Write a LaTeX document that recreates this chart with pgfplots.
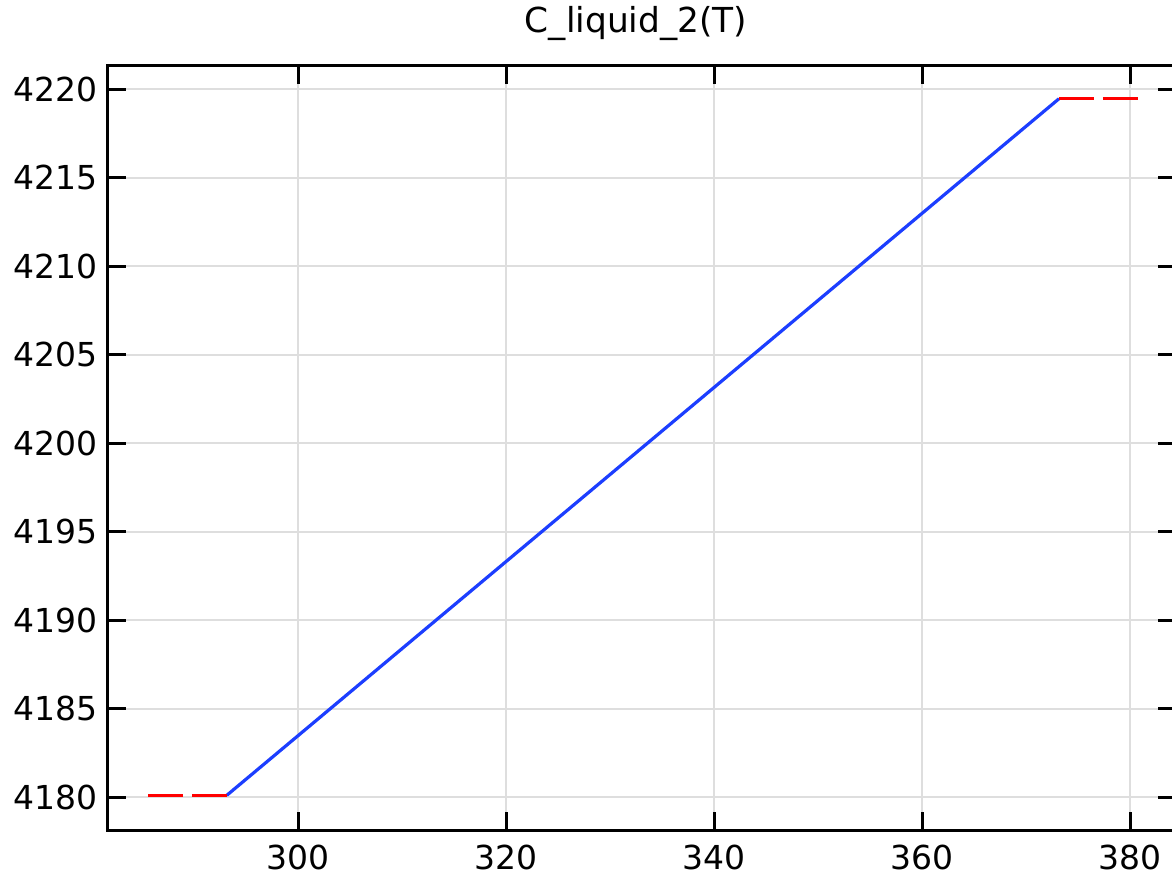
\documentclass[border=0pt]{standalone}
\usepackage{fontspec}
\setmainfont{DejaVu Sans}
\usepackage{pgfplots}
\pgfplotsset{compat=1.18}
\definecolor{cblue}{RGB}{28,62,255}
\begin{document}
\begin{tikzpicture}
\begin{axis}[
  name=ax,
  scale only axis,
  width=534pt, height=382pt,
  xmin=281.73, xmax=384.4,
  ymin=4178.14, ymax=4221.3,
  xtick={300,320,340,360,380},
  ytick={4180,4185,4190,4195,4200,4205,4210,4215,4220},
  /pgf/number format/assume math mode=true,
  /pgf/number format/1000 sep={},
  tick label style={font=\fontsize{16.5}{18}\selectfont},
  xticklabel style={yshift=-4pt},
  yticklabel style={xshift=-1.5pt},
  tick align=inside,
  major tick length=9pt,
  every tick/.style={black, line width=1.5pt},
  axis line style={line width=1.5pt},
  grid=major,
  major grid style={line width=1pt, black!13},
  title={C\_liquid\_2(T)},
  title style={font=\fontsize{17.2}{19}\selectfont, yshift=3pt, xshift=-3pt},
]
\addplot[cblue, line width=1.6pt] coordinates {(293.15,4180.1) (373.15,4219.45)};
\addplot[red, line width=1.6pt, dash pattern=on 17.5pt off 4.5pt] coordinates {(293.15,4180.1) (285.15,4180.1)};
\addplot[red, line width=1.6pt, dash pattern=on 17.5pt off 4.5pt] coordinates {(373.15,4219.45) (381.15,4219.45)};
\end{axis}
\pgfresetboundingbox
\useasboundingbox ([xshift=-54pt,yshift=-26pt]ax.south west) rectangle ([xshift=-2pt,yshift=33pt]ax.north east);
\end{tikzpicture}
\end{document}
